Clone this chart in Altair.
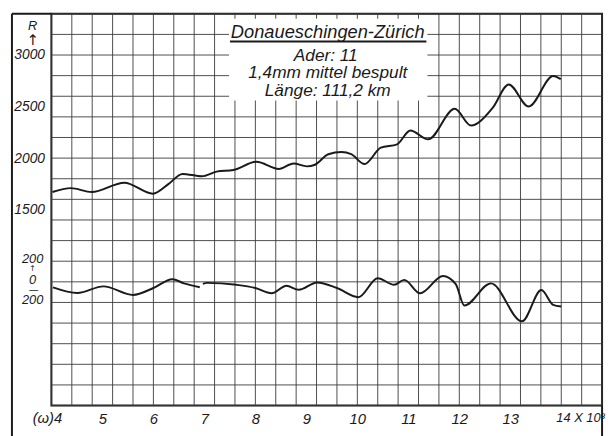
import altair as alt
import pandas as pd

# ---- data ----
omega_R = [4.02, 4.38, 4.79, 5.43, 5.99, 6.30, 6.57, 6.95, 7.24, 7.57, 8.02, 8.46, 8.75, 9.01,
           9.17, 9.43, 9.69, 9.88, 10.14, 10.46, 10.78, 11.04, 11.39, 11.91, 12.23, 12.65,
           12.97, 13.36, 13.84, 13.99]
R_vals = [1671, 1709, 1671, 1761, 1655, 1750, 1847, 1824, 1869, 1885, 1964, 1895, 1948, 1920,
          1936, 2038, 2060, 2038, 1942, 2101, 2134, 2268, 2182, 2478, 2316, 2484,
          2714, 2500, 2797, 2766]

omega_X = [4.03, 4.51, 5.02, 5.60, 6.00, 6.37, 6.60, 6.91,
           6.97, 7.05, 7.63, 8.00, 8.32, 8.61, 8.85, 9.21, 9.60, 10.02, 10.40, 10.72, 10.92,
           11.23, 11.68, 11.93, 12.10, 12.62, 13.23, 13.61, 13.84, 14.00]
X_vals = [-54, -108, -44, -127, -60, 26, -15, -52,
          -20, -10, -29, -60, -111, -38, -77, -6, -60, -149, 35, -29, 19,
          -111, 57, -22, -230, -15, -383, -80, -223, -239]
X_seg = [1] * 8 + [2] * 22
X_zero_on_R = 800          # where the 0 of the lower curve sits on the R grid

x_tick_values = [5, 6, 7, 8, 9, 10, 11, 12, 13]
x_first = 4
x_first_label = "(ω)4"
x_last = 14
x_last_label = "14 X 10³"
y_tick_values = [1500, 2000, 2500, 3000]
lower_tick_values = [200, 0, -200]
lower_tick_text = ["200", "0", "200"]

title_lines = ["Donaueschingen-Zürich", "Ader: 11", "1,4mm mittel bespult", "Länge: 111,2 km"]

x_domain = [4, 14.8]
y_domain = [-400, 3400]
grid_x = [round(4 + 0.4 * k, 2) for k in range(28)]
grid_y = [-400 + 200 * k for k in range(20)]

W, H = 558, 397
FONT = "Liberation Sans"
INK = "#1a1a1a"

xs = alt.Scale(domain=x_domain, nice=False, zero=False)
ys = alt.Scale(domain=y_domain, nice=False, zero=False)

XAX = alt.Axis(values=x_tick_values, grid=False, ticks=False, domain=False, title=None,
               labelFont=FONT, labelFontStyle="italic", labelFontSize=15,
               labelColor=INK, labelPadding=6, format="d")
YAX = alt.Axis(values=y_tick_values, grid=False, ticks=False, domain=False, title=None,
               labelFont=FONT, labelFontStyle="italic", labelFontSize=14,
               labelColor=INK, labelPadding=7, format="d")

one = pd.DataFrame({"a": [0]})

gv = alt.Chart(pd.DataFrame({"gx": grid_x})).mark_rule(color="#3a3a3a", strokeWidth=0.9).encode(
    x=alt.X("gx:Q", scale=xs, axis=XAX))
gh = alt.Chart(pd.DataFrame({"gy": grid_y})).mark_rule(color="#3a3a3a", strokeWidth=0.9).encode(
    y=alt.Y("gy:Q", scale=ys, axis=YAX))

box = alt.Chart(one).mark_rect(color="white").encode(
    x=alt.value(180), x2=alt.value(381), y=alt.value(5), y2=alt.value(88))

dfR = pd.DataFrame({"omega": omega_R, "R": R_vals})
lineR = alt.Chart(dfR).mark_line(color=INK, strokeWidth=2, interpolate="monotone").encode(
    x=alt.X("omega:Q", scale=xs, axis=XAX),
    y=alt.Y("R:Q", scale=ys, axis=YAX))

dfX = pd.DataFrame({"omega": omega_X, "X": X_vals, "seg": X_seg})
lineX = alt.Chart(dfX).transform_calculate(
    yy=f"datum.X + {X_zero_on_R}").mark_line(color=INK, strokeWidth=2, interpolate="monotone").encode(
    x=alt.X("omega:Q", scale=xs, axis=XAX),
    y=alt.Y("yy:Q", scale=ys, axis=YAX),
    detail="seg:N")

lower_lab = alt.Chart(pd.DataFrame({"v": lower_tick_values, "t": lower_tick_text})).transform_calculate(
    yy=f"datum.v + {X_zero_on_R}").mark_text(font=FONT, fontStyle="italic", fontSize=13, color=INK,
                                              align="center", baseline="middle", dy=-2).encode(
    x=alt.value(-19), y=alt.Y("yy:Q", scale=ys, axis=YAX), text="t:N")


def txt(s, x, y, size, align="center", style="italic", font=FONT):
    return alt.Chart(pd.DataFrame({"t": [s]})).mark_text(
        font=font, fontStyle=style, fontSize=size, color=INK, align=align, baseline="middle").encode(
        x=alt.value(x), y=alt.value(y), text="t:N")


def end_label(xv, s, align, dx, size):
    return alt.Chart(pd.DataFrame({"xv": [xv], "t": [s]})).mark_text(
        font=FONT, fontStyle="italic", fontSize=size, color=INK, baseline="middle",
        align=align, dx=dx).encode(
        x=alt.X("xv:Q", scale=xs, axis=XAX), y=alt.value(H + 13), text="t:N")


ends = [end_label(x_first, x_first_label, "right", 11, 15),
        end_label(x_last, x_last_label, "left", -5, 13)]

texts = [
    txt(title_lines[0], 280, 19, 18.5),
    txt(title_lines[1], 278, 43, 17.5),
    txt(title_lines[2], 280, 60, 17.5),
    txt(title_lines[3], 280, 78, 17.5),
    txt("R", -19, 12, 13),
    txt("↑", -19, 27, 15, style="normal", font="DejaVu Sans"),
    txt("↑", -19, 259, 8, style="normal", font="DejaVu Sans"),
    txt("—", -18, 280, 10, style="normal", font="DejaVu Sans"),
]

underline = alt.Chart(one).mark_rule(color=INK, strokeWidth=2).encode(
    x=alt.value(181), x2=alt.value(380), y=alt.value(28))

frame = [
    alt.Chart(one).mark_rule(color=INK, strokeWidth=2).encode(
        x=alt.value(-40), y=alt.value(0), y2=alt.value(H + 40)),
    alt.Chart(one).mark_rule(color=INK, strokeWidth=2).encode(
        x=alt.value(-40), x2=alt.value(0), y=alt.value(0)),
    alt.Chart(one).mark_rule(color=INK, strokeWidth=2).encode(
        x=alt.value(W), y=alt.value(H), y2=alt.value(H + 40)),
]

chart = alt.layer(gv, gh, box, underline, lineR, lineX, lower_lab, *ends, *texts, *frame).properties(
    width=W, height=H,
    autosize=alt.AutoSizeParams(type="none"),
    padding={"left": 44, "top": 3, "right": 5, "bottom": 28},
    background="white",
).configure_view(stroke=INK, strokeWidth=2)

chart.save("out.html", embed_options={"renderer": "svg", "actions": False})
